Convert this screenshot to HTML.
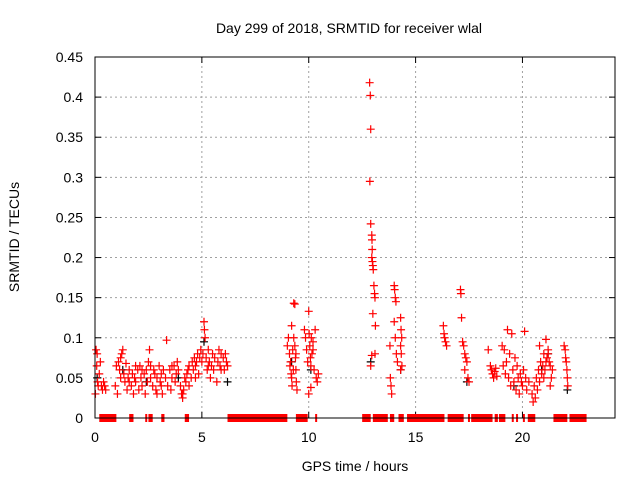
<!DOCTYPE html>
<html><head><meta charset="utf-8"><style>
body{margin:0;background:#fff}
svg{display:block;font-family:"Liberation Sans",sans-serif}
</style></head><body>
<svg id="c" width="640" height="480">
<rect width="640" height="480" fill="#fff"/>
<text x="349" y="33" font-size="14" text-anchor="middle">Day 299 of 2018, SRMTID for receiver wlal</text>
<text x="355" y="471" font-size="14" text-anchor="middle">GPS time / hours</text>
<text transform="translate(19,237) rotate(-90)" font-size="14" text-anchor="middle">SRMTID / TECUs</text>
<g id="grid"></g><g id="marks"></g>
<rect x="95" y="57" width="520" height="361" fill="none" stroke="#000" stroke-width="1"/>
</svg>
<script>
const xTicks=[0,5,10,15,20];
const yTicks=[0,0.05,0.1,0.15,0.2,0.25,0.3,0.35,0.4,0.45];
const yTickLabels=["0","0.05","0.1","0.15","0.2","0.25","0.3","0.35","0.4","0.45"];
const zeroIntervals=[[0.2,1.0],[1.6,1.8],[2.35,2.4],[2.5,2.7],[3.1,3.25],[4.2,4.4],[6.2,9.0],[9.4,9.95],[10.3,10.3],[12.5,12.9],[13.0,13.7],[13.8,14.0],[14.2,14.45],[14.6,16.35],[16.5,17.25],[17.45,17.45],[17.6,18.6],[18.7,18.85],[18.9,19.2],[19.5,19.5],[19.7,19.7],[20.02,20.02],[20.25,20.6],[21.45,22.1],[22.2,23.0]];
const times=[0.02,0.05,0.08,0.1,0.12,0.15,0.2,0.25,0.3,0.35,0.4,0.45,0.5,
0.95,1.0,1.05,1.1,1.15,1.2,1.25,1.3,1.35,1.4,1.45,1.5,1.55,1.6,1.7,1.75,1.8,1.85,1.9,2.0,2.05,2.1,2.15,2.2,2.3,2.35,2.4,2.45,2.5,2.55,2.6,2.7,2.75,2.8,2.85,2.9,3.0,3.05,3.1,3.15,3.2,3.3,3.35,3.4,3.5,3.55,3.6,3.7,3.75,3.8,3.85,3.9,4.0,4.05,4.1,4.15,4.2,4.25,4.3,4.35,4.4,4.5,4.55,4.6,4.65,4.7,4.75,4.8,4.85,4.9,4.95,5.0,5.05,5.1,5.12,5.15,5.2,5.25,5.3,5.35,5.4,5.45,5.5,5.55,5.6,5.7,5.75,5.8,5.85,5.9,6.0,6.05,6.1,6.15,6.2,
1.2,1.6,2.2,2.6,3.1,3.6,4.1,4.7,5.3,5.9,2.9,1.9,4.4,
9.0,9.05,9.1,9.12,9.15,9.18,9.2,9.22,9.25,9.28,9.3,9.35,9.38,9.4,9.42,9.45,9.3,9.2,9.35,9.4,
9.8,9.85,9.9,9.95,10.0,10.02,10.05,10.08,10.1,10.12,10.15,10.2,10.25,10.3,10.35,10.4,10.45,10.0,10.1,10.2,
12.85,12.88,12.9,12.86,12.9,12.95,12.96,12.97,12.95,12.98,13.0,13.02,13.0,13.05,13.08,13.1,13.12,13.1,12.95,12.9,
13.8,13.82,13.85,13.88,14.0,14.02,14.05,14.08,14.0,14.05,14.1,14.15,14.3,14.32,14.35,14.3,14.33,14.36,14.3,
16.3,16.33,16.36,16.4,16.45,
17.1,17.12,17.15,17.2,17.25,17.3,17.35,17.4,17.3,17.45,17.5,
18.4,18.5,18.55,18.6,18.65,18.7,18.75,18.8,
19.05,19.1,19.15,19.2,19.25,19.3,19.35,19.4,19.45,19.5,19.55,19.6,19.65,19.7,19.75,19.8,19.85,19.9,19.95,20.0,20.05,20.1,20.15,20.2,20.3,
20.45,20.5,20.55,20.6,20.65,20.7,20.75,20.8,20.85,20.9,20.95,21.0,21.05,21.1,21.15,21.2,21.25,21.3,21.35,21.4,20.8,21.0,21.1,21.2,21.3,
21.95,22.0,22.02,22.05,22.08,22.1,22.12];
const values=[0.03,0.085,0.065,0.08,0.045,0.04,0.055,0.07,0.04,0.035,0.045,0.04,0.035,
0.04,0.065,0.03,0.07,0.06,0.075,0.08,0.085,0.055,0.045,0.068,0.035,0.05,0.06,0.04,0.055,0.03,0.05,0.045,0.06,0.035,0.065,0.05,0.04,0.055,0.03,0.06,0.045,0.07,0.085,0.05,0.04,0.06,0.055,0.035,0.05,0.065,0.045,0.055,0.03,0.06,0.05,0.097,0.04,0.06,0.035,0.05,0.065,0.045,0.055,0.07,0.06,0.04,0.03,0.025,0.035,0.05,0.045,0.055,0.06,0.065,0.05,0.07,0.06,0.075,0.065,0.07,0.08,0.055,0.075,0.085,0.07,0.08,0.12,0.11,0.1,0.075,0.06,0.085,0.07,0.05,0.065,0.08,0.06,0.075,0.045,0.07,0.085,0.065,0.08,0.075,0.06,0.08,0.07,0.065,
0.05,0.045,0.06,0.065,0.04,0.065,0.03,0.05,0.065,0.06,0.03,0.065,0.04,
0.09,0.1,0.08,0.065,0.07,0.055,0.05,0.04,0.085,0.06,0.143,0.142,0.075,0.06,0.045,0.035,0.1,0.115,0.09,0.08,
0.11,0.1,0.085,0.07,0.133,0.105,0.09,0.075,0.065,0.1,0.08,0.095,0.06,0.11,0.05,0.045,0.055,0.03,0.038,0.085,
0.418,0.402,0.36,0.295,0.242,0.228,0.222,0.21,0.2,0.195,0.19,0.185,0.13,0.165,0.155,0.15,0.115,0.08,0.078,0.065,
0.09,0.05,0.04,0.03,0.165,0.16,0.15,0.145,0.12,0.1,0.08,0.07,0.125,0.11,0.1,0.09,0.08,0.065,0.06,
0.115,0.105,0.1,0.095,0.09,
0.16,0.155,0.125,0.095,0.09,0.08,0.075,0.07,0.06,0.05,0.045,
0.085,0.065,0.06,0.055,0.05,0.058,0.062,0.052,
0.09,0.065,0.085,0.055,0.07,0.11,0.05,0.08,0.04,0.105,0.06,0.045,0.075,0.035,0.065,0.05,0.03,0.055,0.045,0.04,0.06,0.108,0.05,0.035,0.045,
0.03,0.02,0.04,0.025,0.05,0.035,0.06,0.045,0.07,0.055,0.065,0.08,0.06,0.098,0.075,0.085,0.07,0.065,0.05,0.06,0.09,0.05,0.07,0.08,0.04,
0.09,0.085,0.075,0.07,0.06,0.05,0.04];
const blackTimes=[0.1,1.3,2.4,3.9,5.1,6.2,9.2,10.1,12.9,14.3,17.4,19.6,20.9,21.2,22.1];
const blackValues=[0.05,0.06,0.045,0.05,0.095,0.045,0.07,0.06,0.07,0.06,0.045,0.04,0.06,0.08,0.035];

const X0=95,X1=615,Y0=418,Y1=57,XMAX=24.33,YMAX=0.45;
const xs=h=>X0+h*(X1-X0)/XMAX;
const ys=v=>Y0-v*(Y0-Y1)/YMAX;
const NS="http://www.w3.org/2000/svg";
const grid=document.getElementById('grid'),marks=document.getElementById('marks');
function mk(tag,attrs,parent){const e=document.createElementNS(NS,tag);for(const k in attrs)e.setAttribute(k,attrs[k]);parent.appendChild(e);return e;}
yTicks.forEach((v,i)=>{
  const y=ys(v);
  if(i>0&&i<yTicks.length-1){const g=mk('line',{x1:X0,x2:X1,y1:y,y2:y,stroke:'#a0a0a0','stroke-dasharray':'2,3'},grid);
  
  }
  const t=mk('line',{x1:X0,x2:X0+6,y1:y,y2:y,stroke:'#000'},grid);
  
  
  const t2=mk('line',{x1:X1-6,x2:X1,y1:y,y2:y,stroke:'#000'},grid);
  
  
  const l=mk('text',{x:83,y:y+5,'font-size':14,'text-anchor':'end'},grid);l.textContent=yTickLabels[i];
  
  
});
xTicks.forEach(h=>{
  const x=xs(h);
  if(h>0){const g=mk('line',{x1:x,x2:x,y1:Y0,y2:Y1,stroke:'#a0a0a0','stroke-dasharray':'2,3'},grid);
  
  }
  const t=mk('line',{x1:x,x2:x,y1:Y0,y2:Y0-6,stroke:'#000'},grid);
  
  
  const t2=mk('line',{x1:x,x2:x,y1:Y1,y2:Y1+6,stroke:'#000'},grid);
  
  
  const l=mk('text',{x:x,y:442,'font-size':14,'text-anchor':'middle'},grid);l.textContent=String(h);
  
  
});
function plus(h,v,col){
  const x=xs(h),y=ys(v);
  const p=mk('path',{d:`M${x-4},${y}H${x+4}M${x},${y-4}V${y+4}`,stroke:col,'stroke-width':1.2,fill:'none'},marks);
  return p;
}
blackTimes.forEach((h,i)=>{
  const p=plus(h,blackValues[i],'#000');
  
  
});
zeroIntervals.forEach(([a,b])=>{
  const x=xs(a),w=Math.max(xs(b)-xs(a),2);
  const r=mk('rect',{x:x,y:Y0-4,width:w,height:8,fill:'#f00'},marks);
  
  
});
times.forEach((h,i)=>{
  const p=plus(h,values[i],'#f00');
  
  
});
</script>
</body></html>
